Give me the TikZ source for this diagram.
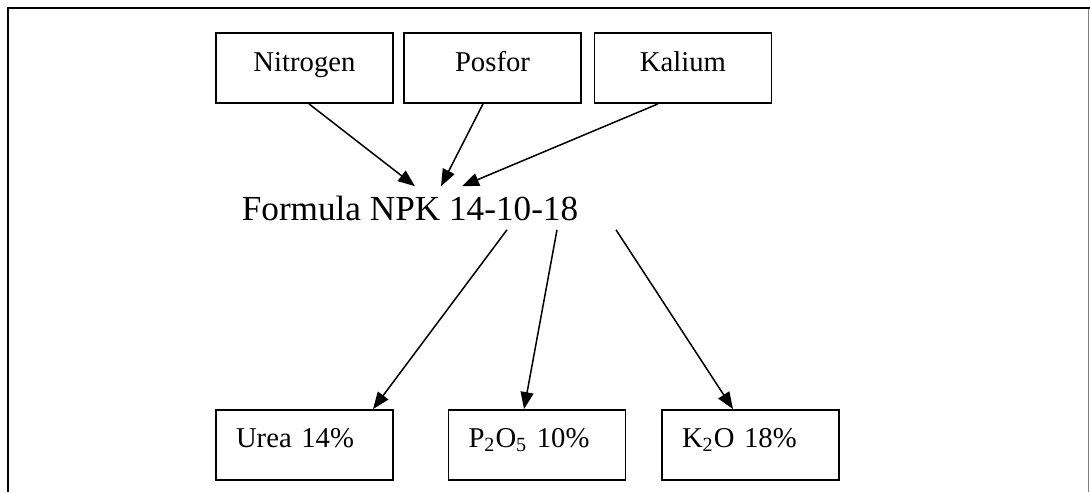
\documentclass[tikz,border=0pt]{standalone}
\usepackage{fontspec}
\setmainfont{Liberation Serif}
\usetikzlibrary{positioning,calc,arrows.meta}

\tikzset{
	topbox/.style={draw, line width=0.9pt, minimum width=88.5pt, minimum height=35pt, inner sep=0pt, text height=10pt, text depth=6pt, font=\fontsize{14.35}{17}\selectfont},
	lowbox/.style={draw, line width=0.9pt, minimum width=88.5pt, minimum height=35pt, inner sep=0pt, text width=68.5pt, align=left, text height=18.5pt, text depth=16.5pt, font=\fontsize{14.35}{17}\selectfont},
	link/.style={-{Triangle[length=8.5pt,width=6.5pt]}, line width=0.75pt},
}

\begin{document}
\begin{tikzpicture}[x=0.5pt, y=-0.5pt]
		\useasboundingbox (0,0) rectangle (1090,492);
		\draw[line width=1pt] (7,8) -- (1090,8);
		\draw[line width=1pt] (8,8) -- (8,492);
		\draw[gray, line width=0.5pt] (1088,9) -- (1088,492);
		\node[topbox] (nitro) at (304.5,68) {Nitrogen};
		\node[topbox] (posfor) at (492.5,68) {Posfor};
		\node[topbox] (kalium) at (683,68) {Kalium};
		\node[inner sep=4.5pt, font=\fontsize{17.6}{21}\selectfont] (formula) at (410,208) {Formula NPK 14-10-18};
		\node[lowbox] (urea) at (304.5,445) {Urea 14\%};
		\node[lowbox] (pfive) at (537,445) {P\textsubscript{2}O\textsubscript{5} 10\%};
		\node[lowbox] (ktwo) at (750.5,445) {K\textsubscript{2}O 18\%};
		\draw[link] ([xshift=2.25pt]nitro.south) -- ([xshift=2.5pt]formula.north);
		\draw[link] ([xshift=-4.75pt]posfor.south) -- ([xshift=15.5pt]formula.north);
		\draw[link] ([xshift=-12.5pt]kalium.south) -- ([xshift=26pt]formula.north);
		\draw[link] ([xshift=48.5pt]formula.south) -- ([xshift=34.25pt]urea.north);
		\draw[link] ([xshift=73.5pt]formula.south) -- ([xshift=-6.5pt]pfive.north);
		\draw[link] ([xshift=103pt]formula.south) -- ([xshift=-8.75pt]ktwo.north);
	\end{tikzpicture}
\end{document}
